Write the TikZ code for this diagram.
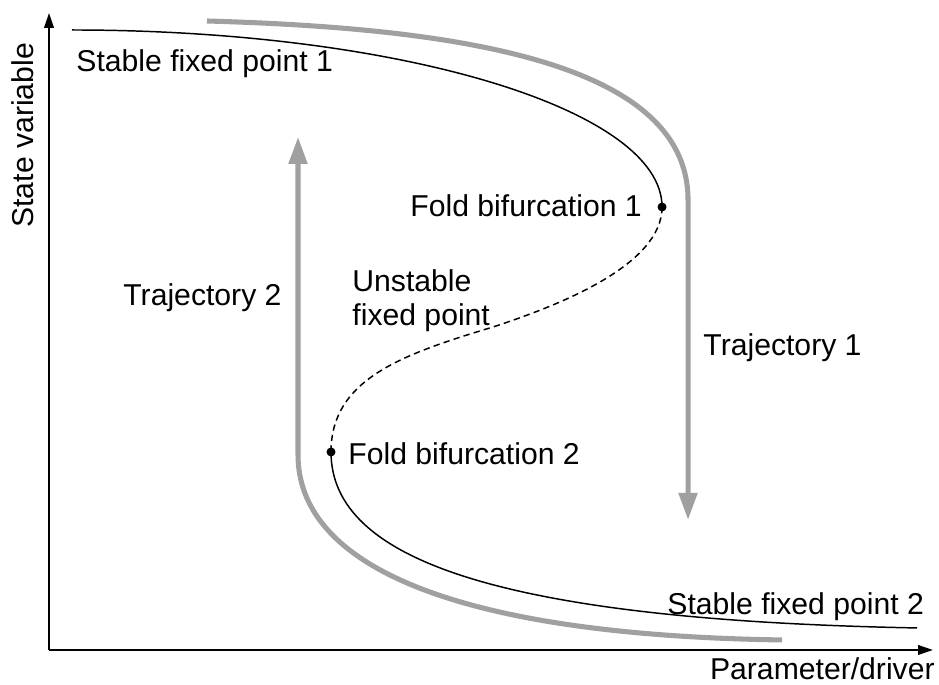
\documentclass[tikz,border=0pt]{standalone}
\usepackage{fontspec}
\setmainfont{Liberation Sans}
\usepackage{xcolor}
\usetikzlibrary{arrows.meta}
\definecolor{trajgray}{RGB}{160,160,160}

\begin{document}
\begin{tikzpicture}[
  axis/.style={line width=0.95pt, -{Triangle[length=0.25cm,width=0.16cm]}},
  stable/.style={line width=0.7pt},
  unstable/.style={line width=0.7pt, dash pattern=on 3pt off 2pt},
  traj/.style={trajgray, line width=2.4pt, -{Triangle[length=0.45cm,width=0.3cm]}},
  lbl/.style={inner sep=0pt, font=\fontsize{14.3}{16.1}\selectfont}
]
\useasboundingbox (-0.817,-0.583) rectangle (14.833,10.833);
% \draw[help lines, dashed, red] (0,0) grid (14,10);
\coordinate (O) at (0,0);
\coordinate (ytip) at (0,10.617);
\coordinate (xtip) at (14.733,0);
\coordinate (F1) at (10.217,7.383);
\coordinate (F2) at (4.70,3.30);
\draw[axis](O)--(ytip);
\draw[axis](O)--(xtip);
\node[lbl, rotate=90, anchor=base west] (yl) at (-0.267,7.033) {State variable};
\node[lbl, anchor=base east] (xl) at (14.767,-0.49) {Parameter/driver};
% trajectories
\draw[traj](2.633,10.483) .. controls (6.683,10.367) and (10.65,9.833) .. (10.65,7.5)--(10.65,2.167);
\draw[traj](12.217,0.167) .. controls (6.517,0.25) and (4.15,1.5) .. (4.15,3.25)--(4.15,8.55);
% fixed points
\draw[stable](0.383,10.333) .. controls (5.817,10.333) and (10.217,9.017) .. (F1);
\draw[unstable](F1) .. controls (10.217,6.417) and (8.517,5.75) .. (7.4,5.383)
  .. controls (5.85,4.917) and (4.70,4.5) .. (F2);
\draw[stable](F2) .. controls (4.70,1.5) and (7.517,0.5) .. (14.467,0.367);
\fill (F1) circle (0.075);
\fill (F2) circle (0.075);
\node[lbl, anchor=base west] (sfp1) at (0.45,9.633) {Stable fixed point 1};
\node[lbl, anchor=base west] (sfp2) at (10.3,0.583) {Stable fixed point 2};
\node[lbl, anchor=base west] (fb1) at (6.017,7.217) {Fold bifurcation 1};
\node[lbl, anchor=base west] (fb2) at (4.983,3.083) {Fold bifurcation 2};
\node[lbl, anchor=west, align=left] (ufp) at (5.05,5.817) {Unstable\\fixed point};
\node[lbl, anchor=base west] (tr1) at (10.9,4.9) {Trajectory 1};
\node[lbl, anchor=base west] (tr2) at (1.233,5.733) {Trajectory 2};
\end{tikzpicture}
\end{document}
